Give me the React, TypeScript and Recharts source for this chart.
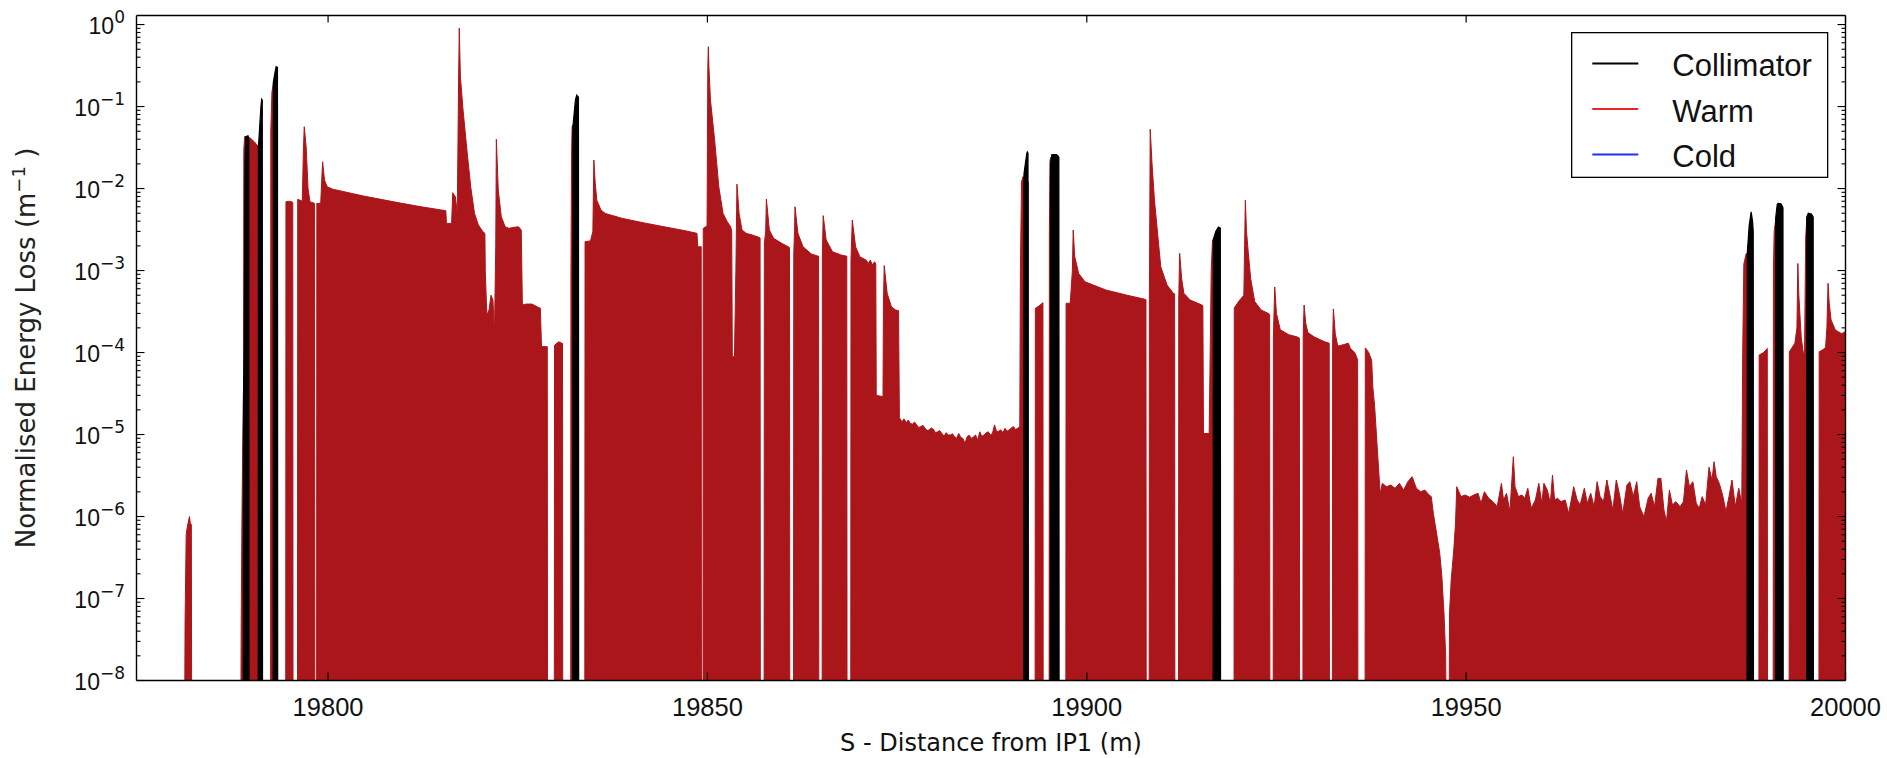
import { Area, ComposedChart, XAxis, YAxis } from "recharts";

type Pt = [number, number];

const FLOOR = 1e-8;
const X_DOMAIN: [number, number] = [19774.75, 20000];
const Y_DOMAIN: [number, number] = [1e-8, 1.29];
const X_TICKS = [19800, 19850, 19900, 19950, 20000];
const Y_MAJOR = [1e-8, 1e-7, 1e-6, 1e-5, 1e-4, 1e-3, 1e-2, 1e-1, 1];
const Y_MINOR_STEPS = [2, 3, 4, 5, 6, 7, 8, 9];

const LEGEND = [
  { name: "Collimator", color: "#000000" },
  { name: "Warm", color: "#e8262b" },
  { name: "Cold", color: "#1e32ee" },
];

const WARM_FILL = "#ab161b";
const SANS = "'Liberation Sans', Arial, Helvetica, sans-serif";
const DEJAVU = "'DejaVu Sans', Verdana, sans-serif";

// warm element losses, one block per element (s in m, loss in 1/m)
const warmStray: Pt[] = [[19781.15, 5e-8], [19781.3, 6e-7], [19781.45, 7.5e-7], [19781.73, 1e-6], [19781.85, 8.2e-7], [19781.98, 8e-7]];
const warmLead: Pt[] = [[19788.55, 5e-8], [19788.65, 1e-6], [19788.75, 8e-6], [19788.85, 3e-5], [19788.9, 0.03], [19789.0, 0.043], [19789.45, 0.0428], [19789.8, 0.0409], [19790.3, 0.037], [19790.85, 0.0323]];
const warmQ3: Pt[] = [[19792.45, 0.05], [19792.6, 0.15], [19792.85, 0.21]];
const warmQ4: Pt[] = [[19794.45, 6.9e-3], [19794.9, 7e-3], [19795.35, 6.8e-3]];
const warmQ5: Pt[] = [[19796.0, 7.4e-3], [19796.6, 7e-3], [19796.75, 0.03], [19796.86, 0.0567], [19797.11, 0.0323], [19797.36, 0.01], [19797.61, 6.9e-3], [19798.22, 6.6e-3]];
const warmArc1: Pt[] = [
  [19798.52, 6.6e-3], [19799.03, 6.6e-3], [19799.2, 0.015], [19799.28, 0.0212], [19799.53, 0.0127], [19799.89, 0.0105],
  [19800.64, 9.8e-3], [19804.68, 8.1e-3], [19809.72, 6.6e-3], [19812.24, 6e-3], [19815.52, 5.37e-3], [19815.6, 3.76e-3],
  [19816.28, 3.76e-3], [19816.43, 8.9e-3], [19816.78, 7.9e-3], [19817.03, 4.98e-3], [19817.2, 0.2], [19817.29, 0.9],
  [19817.44, 0.231], [19817.79, 0.0906], [19818.3, 0.0295], [19818.8, 0.0105], [19819.3, 4.98e-3], [19819.81, 3.59e-3],
  [19820.41, 2.97e-3], [19820.67, 2.84e-3], [19820.72, 1e-3], [19820.92, 2.87e-4], [19821.22, 3.3e-4], [19821.47, 5e-4],
  [19821.73, 4.36e-4], [19821.93, 1.71e-4], [19822.1, 2e-3], [19822.18, 0.0398], [19822.43, 9.6e-3], [19822.83, 4.53e-3],
  [19823.34, 3.42e-3], [19823.84, 3.27e-3], [19824.35, 3.35e-3], [19825.1, 3.42e-3], [19825.46, 3.12e-3], [19825.61, 3.8e-4],
  [19826.11, 3.9e-4], [19826.87, 3.9e-4], [19827.63, 3.59e-4], [19827.98, 3.46e-4], [19828.13, 1.18e-4], [19828.89, 1.18e-4],
];
const warmQ7: Pt[] = [[19829.85, 1.23e-4], [19830.4, 1.35e-4], [19830.9, 1.29e-4]];
const warmQ8: Pt[] = [[19832.01, 1e-3], [19832.1, 0.03], [19832.17, 0.057], [19832.3, 0.06]];
const warmArc2: Pt[] = [
  [19833.87, 2.25e-3], [19834.59, 2.3e-3], [19834.9, 3e-3], [19835.03, 0.0223], [19835.2, 0.012], [19835.42, 7.2e-3],
  [19835.97, 5.47e-3], [19836.53, 4.98e-3], [19838.75, 4.33e-3], [19841.52, 3.83e-3], [19844.29, 3.42e-3], [19847.07, 3.06e-3],
  [19848.62, 2.84e-3], [19848.73, 1.95e-3], [19849.18, 1.95e-3],
];
const warmArc3: Pt[] = [
  [19849.45, 3.27e-3], [19849.95, 3.5e-3], [19850.05, 0.3], [19850.12, 0.537], [19850.2, 0.3], [19850.4, 0.12],
  [19850.95, 0.039], [19851.5, 0.0105], [19852.06, 4.98e-3], [19852.61, 3.94e-3], [19853.06, 3.42e-3], [19853.2, 3e-3],
  [19853.28, 8.9e-5], [19853.56, 8.9e-5], [19853.75, 1e-3], [19853.89, 0.0113], [19854.17, 4.98e-3], [19854.56, 3.12e-3],
  [19855.11, 2.84e-3], [19855.94, 2.71e-3], [19856.77, 2.54e-3], [19856.94, 2.5e-3],
];
const warmB1: Pt[] = [[19857.5, 2.14e-3], [19857.68, 3e-3], [19857.77, 7.45e-3], [19858.16, 3.12e-3], [19858.72, 2.47e-3], [19859.83, 2.14e-3], [19860.66, 1.95e-3], [19860.82, 1.9e-3]];
const warmB2: Pt[] = [[19861.38, 1.62e-3], [19861.48, 3e-3], [19861.54, 6e-3], [19861.93, 2.84e-3], [19862.6, 1.95e-3], [19863.71, 1.59e-3], [19864.54, 1.5e-3], [19864.65, 1.5e-3]];
const warmB3: Pt[] = [[19865.15, 1.62e-3], [19865.26, 4.67e-3], [19865.65, 2.36e-3], [19866.48, 1.7e-3], [19867.59, 1.55e-3], [19868.26, 1.5e-3], [19868.37, 1.5e-3]];
const warmB4: Pt[] = [
  [19868.92, 1.34e-3], [19869.09, 4.13e-3], [19869.53, 1.95e-3], [19870.09, 1.47e-3], [19870.92, 1.34e-3], [19871.2, 1.22e-3],
  [19871.47, 1.34e-3], [19871.75, 1.17e-3], [19872.03, 1.28e-3], [19872.19, 1.2e-3], [19872.25, 3e-5], [19873.14, 2.9e-5],
  [19873.2, 4e-4], [19873.3, 1.15e-3], [19873.69, 5.27e-4], [19874.25, 3.62e-4], [19874.8, 3.3e-4], [19875.19, 3.24e-4],
  [19875.3, 1.6e-5],
  // low plateau
  [19875.63, 1.43e-5], [19875.9, 1.55e-5], [19876.2, 1.4e-5], [19876.47, 1.5e-5], [19876.75, 1.36e-5], [19877.02, 1.34e-5],
  [19877.3, 1.42e-5], [19877.58, 1.31e-5], [19877.85, 1.22e-5], [19878.13, 1.25e-5], [19878.4, 1.3e-5], [19878.69, 1.19e-5],
  [19878.95, 1.12e-5], [19879.24, 1.14e-5], [19879.5, 1.2e-5], [19879.79, 1.16e-5], [19880.05, 1.05e-5], [19880.35, 1.08e-5],
  [19880.6, 1.12e-5], [19880.9, 1.03e-5], [19881.2, 9.6e-6], [19881.46, 1.05e-5], [19881.75, 9.9e-6], [19882.01, 9.86e-6],
  [19882.3, 1.02e-5], [19882.57, 9.4e-6], [19882.85, 9e-6], [19883.12, 1.03e-5], [19883.4, 9.2e-6], [19883.68, 8.97e-6],
  [19883.95, 7.8e-6], [19884.23, 9.4e-6], [19884.5, 9.8e-6], [19884.79, 8.97e-6], [19885.05, 9.3e-6], [19885.34, 9.86e-6],
  [19885.62, 8.57e-6], [19885.9, 1.08e-5], [19886.15, 9.5e-6], [19886.45, 9.86e-6], [19886.75, 1.05e-5], [19887.01, 1.08e-5],
  [19887.3, 9.9e-6], [19887.56, 1.03e-5], [19887.84, 1.31e-5], [19888.12, 1.08e-5], [19888.4, 1.1e-5], [19888.67, 1.14e-5],
  [19888.95, 1.05e-5], [19889.22, 1.19e-5], [19889.5, 1.1e-5], [19889.78, 1.14e-5], [19890.05, 1.2e-5], [19890.33, 1.25e-5],
  [19890.6, 1.15e-5], [19890.89, 1.19e-5], [19891.17, 1.25e-5],
  [19891.25, 1e-3], [19891.4, 0.0121], [19891.6, 0.014], [19892.3, 0.012],
];
const warmE2: Pt[] = [[19893.22, 3.46e-4], [19893.7, 3.7e-4], [19894.22, 4.05e-4]];
const warmF: Pt[] = [[19895.07, 3e-3], [19895.15, 0.022], [19895.25, 0.024]];
const warmG1: Pt[] = [[19897.27, 3.98e-4], [19897.82, 4e-4], [19898.1, 1e-3], [19898.21, 3.12e-3], [19898.4, 1.5e-3], [19898.93, 9.2e-4], [19899.76, 7.3e-4], [19902.54, 5.78e-4], [19905.31, 5e-4], [19907.53, 4.49e-4], [19907.8, 4.4e-4]];
const warmG2: Pt[] = [[19908.25, 4.4e-4], [19908.36, 0.0527], [19908.6, 0.02], [19908.92, 7.2e-3], [19909.75, 1.11e-3], [19910.58, 6.65e-4], [19911.41, 5.27e-4], [19911.58, 5.2e-4]];
const warmG3: Pt[] = [[19912.12, 4.5e-4], [19912.24, 1.62e-3], [19912.5, 8e-4], [19912.8, 5.27e-4], [19913.63, 4.36e-4], [19915.18, 3.8e-4], [19915.3, 3.7e-4], [19915.38, 1.03e-5], [19916.13, 1.03e-5], [19916.4, 1e-3], [19916.57, 2.36e-3], [19916.75, 2.4e-3]];
const warmH1: Pt[] = [[19919.44, 3.5e-4], [19920.1, 4.3e-4], [19920.7, 5e-4], [19920.9, 7.2e-3], [19921.05, 3e-3], [19921.3, 1.6e-3], [19921.6, 8e-4], [19922.13, 4.2e-4], [19922.98, 3.3e-4], [19923.93, 3e-4], [19924.1, 2.9e-4]];
const warmH2: Pt[] = [[19924.6, 1.6e-4], [19924.77, 6.3e-4], [19925.0, 3e-4], [19925.5, 1.9e-4], [19926.62, 1.65e-4], [19927.74, 1.55e-4], [19928.02, 1.5e-4]];
const warmH3: Pt[] = [[19928.52, 1.5e-4], [19928.64, 3.8e-4], [19928.85, 2.3e-4], [19929.14, 1.75e-4], [19929.98, 1.55e-4], [19931.38, 1.35e-4], [19931.95, 1.3e-4]];
const warmH4: Pt[] = [[19932.4, 1.3e-4], [19932.5, 3.4e-4], [19932.75, 1.7e-4], [19933.07, 1.2e-4], [19933.9, 1.25e-4], [19934.47, 1.3e-4], [19934.75, 1.12e-4], [19935.31, 1e-4], [19935.59, 8.7e-5], [19935.7, 8e-5]];
const warmH5: Pt[] = [
  [19936.71, 1.14e-4], [19937.16, 1e-4], [19937.55, 8e-5], [19937.7, 3.8e-5], [19937.94, 2.2e-5], [19938.28, 7e-6],
  [19938.67, 1.9e-6], [19938.95, 2.54e-6], [19939.51, 2.31e-6], [19940.07, 2.42e-6], [19940.63, 2.21e-6], [19941.2, 2.54e-6],
  [19941.76, 2.1e-6], [19942.32, 2.66e-6], [19942.88, 3.06e-6], [19943.44, 2.21e-6], [19944.0, 2.01e-6], [19944.56, 2.1e-6],
  [19945.12, 1.83e-6], [19945.4, 1.75e-6], [19945.68, 1.09e-6], [19946.24, 5.2e-7], [19946.52, 3.56e-7], [19946.8, 1.85e-7],
  [19947.08, 6.6e-8], [19947.3, 2e-8],
];
const warmTail: Pt[] = [
  [19947.81, 6.6e-8], [19948.03, 1.68e-7], [19948.37, 3.9e-7], [19948.6, 8.3e-7], [19948.76, 2.31e-6], [19949.32, 1.75e-6],
  [19949.88, 1.83e-6], [19950.45, 1.72e-6], [19951.0, 1.83e-6], [19951.57, 1.92e-6], [19951.96, 1.45e-6], [19952.41, 2.01e-6],
  [19952.97, 1.67e-6], [19953.53, 1.52e-6], [19954.09, 1.32e-6], [19954.37, 1.83e-6], [19954.65, 2.54e-6], [19954.93, 1.59e-6],
  [19955.32, 1.92e-6], [19955.77, 1.15e-6], [19956.22, 5.36e-6], [19956.44, 2.31e-6], [19956.89, 1.75e-6], [19957.34, 1.83e-6],
  [19957.73, 1.67e-6], [19958.13, 2.21e-6], [19958.57, 1.26e-6], [19959.13, 1.59e-6], [19959.58, 2.54e-6], [19959.97, 1.45e-6],
  [19960.25, 2.54e-6], [19960.7, 2.1e-6], [19961.1, 1.45e-6], [19961.38, 3.21e-6], [19961.66, 1.59e-6], [19962.05, 1.67e-6],
  [19962.5, 1.52e-6], [19963.06, 1.59e-6], [19963.51, 1.09e-6], [19963.73, 1.38e-6], [19964.18, 2.31e-6], [19964.63, 1.59e-6],
  [19965.02, 1.38e-6], [19965.58, 2.21e-6], [19965.97, 1.45e-6], [19966.42, 1.92e-6], [19966.87, 1.32e-6], [19967.26, 2.66e-6],
  [19967.66, 1.75e-6], [19968.1, 1.52e-6], [19968.55, 2.79e-6], [19968.95, 1.83e-6], [19969.34, 1.2e-6], [19969.79, 2.79e-6],
  [19970.23, 1.83e-6], [19970.63, 1.09e-6], [19971.19, 2.42e-6], [19971.58, 2.66e-6], [19972.03, 1.75e-6], [19972.48, 2.66e-6],
  [19972.87, 1.32e-6], [19973.43, 9.96e-7], [19973.99, 1.67e-6], [19974.38, 1.92e-6], [19974.83, 1.32e-6], [19975.28, 2.92e-6],
  [19975.67, 2.92e-6], [19976.07, 1.2e-6], [19976.4, 8.65e-7], [19976.79, 2.1e-6], [19977.19, 1.38e-6], [19977.63, 1.52e-6],
  [19978.2, 1.32e-6], [19978.64, 1.52e-6], [19979.04, 3.69e-6], [19979.43, 2.31e-6], [19979.88, 2.66e-6], [19980.33, 1.45e-6],
  [19980.72, 1.26e-6], [19981.11, 1.75e-6], [19981.56, 1.38e-6], [19982.01, 3.98e-6], [19982.4, 2.79e-6], [19982.68, 4.66e-6],
  [19982.96, 3.06e-6], [19983.36, 2.54e-6], [19983.8, 1.83e-6], [19984.25, 1.15e-6], [19984.64, 1.75e-6], [19985.04, 2.79e-6],
  [19985.48, 1.32e-6], [19985.93, 2.21e-6], [19986.33, 1.45e-6], [19986.45, 1e-4], [19986.6, 1.2e-3], [19986.9, 1.6e-3],
  [19987.1, 1.6e-3],
];
const warmJ1: Pt[] = [[19988.62, 9.3e-5], [19989.2, 1e-4], [19989.69, 1.12e-4]];
const warmJ2: Pt[] = [[19990.5, 1e-3], [19990.6, 3e-3], [19990.85, 4.5e-3]];
const warmJ3: Pt[] = [[19992.6, 1.02e-4], [19993.33, 1.3e-4], [19993.6, 2e-4], [19993.72, 1.22e-3], [19993.85, 5e-4], [19994.17, 1.5e-4], [19994.45, 9.8e-5], [19994.6, 1e-4], [19994.75, 2.5e-3], [19994.92, 4.5e-3]];
const warmJ4: Pt[] = [[19996.53, 1.02e-4], [19997.0, 1.08e-4], [19997.37, 1.15e-4], [19997.55, 2e-4], [19997.7, 7e-4], [19997.85, 4e-4], [19998.1, 2.5e-4], [19998.66, 1.88e-4], [19999.5, 1.7e-4], [20000, 1.8e-4]];

// collimator losses
const collA: Pt[] = [[19788.85, 3e-5], [19788.95, 1e-4], [19789.05, 0.02], [19789.15, 0.043], [19789.45, 0.044], [19789.55, 0.04]];
const collB: Pt[] = [[19790.82, 0.032], [19791.0, 0.06], [19791.15, 0.1], [19791.25, 0.123], [19791.33, 0.12]];
const collC: Pt[] = [[19792.79, 0.2], [19793.0, 0.26], [19793.15, 0.306], [19793.33, 0.3]];
const collD: Pt[] = [[19832.27, 0.057], [19832.6, 0.12], [19832.77, 0.138], [19833.0, 0.13]];
const collE: Pt[] = [[19891.72, 0.015], [19891.9, 0.02], [19892.1, 0.027], [19892.16, 0.028], [19892.25, 0.027]];
const collF: Pt[] = [[19895.22, 0.02], [19895.4, 0.026], [19896.0, 0.026], [19896.2, 0.025], [19896.32, 0.024]];
const collG: Pt[] = [[19916.68, 2.4e-3], [19917.0, 3e-3], [19917.35, 3.4e-3], [19917.6, 3.3e-3]];
const collH: Pt[] = [[19987.05, 1.6e-3], [19987.3, 3.5e-3], [19987.56, 5.2e-3], [19987.75, 4e-3], [19987.84, 3e-3]];
const collI: Pt[] = [[19990.81, 4.5e-3], [19991.0, 6.4e-3], [19991.1, 6.6e-3], [19991.5, 6.5e-3], [19991.7, 6e-3], [19991.76, 5.8e-3]];
const collJ: Pt[] = [[19994.9, 4.5e-3], [19995.1, 5e-3], [19995.5, 4.9e-3], [19995.74, 4.5e-3]];

const warmBlocks = [
  warmStray, warmLead, warmQ3, warmQ4, warmQ5, warmArc1, warmQ7, warmQ8, warmArc2, warmArc3, warmB1, warmB2, warmB3, warmB4,
  warmE2, warmF, warmG1, warmG2, warmG3, warmH1, warmH2, warmH3, warmH4, warmH5, warmTail, warmJ1, warmJ2, warmJ3, warmJ4,
];
const collBlocks = [collA, collB, collC, collD, collE, collF, collG, collH, collI, collJ];

// each element drops back to the floor just outside its ends
function closeBlock(block: Pt[]): Pt[] {
  return [[block[0][0] - 0.03, FLOOR], ...block, [block[block.length - 1][0] + 0.03, FLOOR]];
}

type Row = { s: number; warm?: number; coll?: number };

function buildRows(): Row[] {
  const rows = new Map<number, Row>();
  const put = (blocks: Pt[][], key: "warm" | "coll") => {
    blocks.flatMap(closeBlock).forEach(([s, v]) => {
      const k = Math.round(s * 1000) / 1000;
      const row = rows.get(k) ?? { s: k };
      row[key] = v;
      rows.set(k, row);
    });
  };
  put(warmBlocks, "warm");
  put(collBlocks, "coll");
  return [...rows.values()].sort((a, b) => a.s - b.s);
}

const data = buildRows();
const yTicks = [...Y_MAJOR, ...Y_MAJOR.slice(0, -1).flatMap((m) => Y_MINOR_STEPS.map((k) => k * m))];
const isMajor = (v: number) => Y_MAJOR.includes(v);

const BottomTick = ({ x, y, payload }: any) => (
  <g>
    <line x1={x} x2={x} y1={y} y2={y - 8} stroke="#000" strokeWidth={1.2} />
    <text x={x} y={y + 35.5} textAnchor="middle" fontFamily={SANS} fontSize={25.5} fill="#111">
      {payload.value}
    </text>
  </g>
);

const TopTick = ({ x, y }: any) => <line x1={x} x2={x} y1={y} y2={y + 7} stroke="#000" strokeWidth={1.2} />;

const LeftTick = ({ x, y, payload }: any) => {
  const v = payload.value;
  const major = isMajor(v);
  const exp = Math.round(Math.log10(v));
  return (
    <g>
      <line x1={x} x2={x + (major ? 8 : 4)} y1={y} y2={y} stroke="#000" strokeWidth={1.1} />
      {major && (
        <text x={x - 11.5} y={y + 9.5} textAnchor="end" fontFamily={SANS} fontSize={23} fill="#111">
          10
          <tspan dy={-11.5} fontFamily={DEJAVU} fontSize={17}>
            {exp === 0 ? "0" : `\u2212${-exp}`}
          </tspan>
        </text>
      )}
    </g>
  );
};

const RightTick = ({ x, y, payload }: any) => {
  const major = isMajor(payload.value);
  return <line x1={x} x2={x - (major ? 8 : 4)} y1={y} y2={y} stroke="#000" strokeWidth={1.1} />;
};

const XTitle = () => (
  <text x={991} y={751} textAnchor="middle" fontFamily={DEJAVU} fontSize={24} fill="#111">
    S - Distance from IP1 (m)
  </text>
);

const YTitle = () => (
  <text transform="translate(34.5,348) rotate(-90)" textAnchor="middle" fontFamily={DEJAVU} fontSize={26} fill="#222">
    Normalised Energy Loss (m
    <tspan dy={-10} fontSize={18}>
      {"\u22121"}
    </tspan>
    <tspan dy={10}> )</tspan>
  </text>
);

function LegendBox() {
  return (
    <svg width={258} height={147} style={{ position: "absolute", left: 1570.7, top: 31.7 }}>
      <rect x={0.65} y={0.65} width={256} height={144.7} fill="#fff" stroke="#000" strokeWidth={1.3} />
      {LEGEND.map((item, i) => {
        const ly = 31.6 + i * 45.5;
        return (
          <g key={item.name}>
            <line x1={21.3} x2={67.3} y1={ly} y2={ly} stroke={item.color} strokeWidth={2} />
            <text x={101.3} y={ly + 12.5} fontFamily={SANS} fontSize={31} fill="#111">
              {item.name}
            </text>
          </g>
        );
      })}
    </svg>
  );
}

export default function App() {
  const axisLine = { stroke: "#000", strokeWidth: 1.4 };
  return (
    <div style={{ position: "absolute", left: 0, top: 0, width: 1887, height: 758, background: "#fff" }}>
      <ComposedChart width={1887} height={758} data={data} margin={{ top: 14.5, right: 40.5, bottom: 0, left: 0 }}>
        <Area
          xAxisId="b"
          yAxisId="l"
          dataKey="warm"
          name="Warm"
          type="linear"
          baseValue={FLOOR}
          fill={WARM_FILL}
          fillOpacity={1}
          stroke={WARM_FILL}
          strokeWidth={1}
          connectNulls
          dot={false}
          activeDot={false}
          isAnimationActive={false}
        />
        <Area
          xAxisId="t"
          yAxisId="r"
          dataKey="coll"
          name="Collimator"
          type="linear"
          baseValue={FLOOR}
          fill="#000"
          fillOpacity={1}
          stroke="#000"
          strokeWidth={1.2}
          connectNulls
          dot={false}
          activeDot={false}
          isAnimationActive={false}
        />
        <XAxis
          xAxisId="b"
          type="number"
          dataKey="s"
          domain={X_DOMAIN}
          allowDataOverflow
          ticks={X_TICKS}
          interval={0}
          height={77.5}
          tickSize={0}
          tickMargin={0}
          tickLine={false}
          tick={<BottomTick />}
          axisLine={axisLine}
          label={<XTitle />}
        />
        <XAxis
          xAxisId="t"
          orientation="top"
          type="number"
          dataKey="s"
          domain={X_DOMAIN}
          allowDataOverflow
          ticks={X_TICKS}
          interval={0}
          height={1}
          tickSize={0}
          tickMargin={0}
          tickLine={false}
          tick={<TopTick />}
          axisLine={axisLine}
        />
        <YAxis
          yAxisId="l"
          type="number"
          scale="log"
          domain={Y_DOMAIN}
          allowDataOverflow
          ticks={yTicks}
          interval={0}
          width={136.5}
          tickSize={0}
          tickMargin={0}
          tickLine={false}
          tick={<LeftTick />}
          axisLine={axisLine}
          label={<YTitle />}
        />
        <YAxis
          yAxisId="r"
          orientation="right"
          type="number"
          scale="log"
          domain={Y_DOMAIN}
          allowDataOverflow
          ticks={yTicks}
          interval={0}
          width={1}
          tickSize={0}
          tickMargin={0}
          tickLine={false}
          tick={<RightTick />}
          axisLine={axisLine}
        />
      </ComposedChart>
      <LegendBox />
    </div>
  );
}
